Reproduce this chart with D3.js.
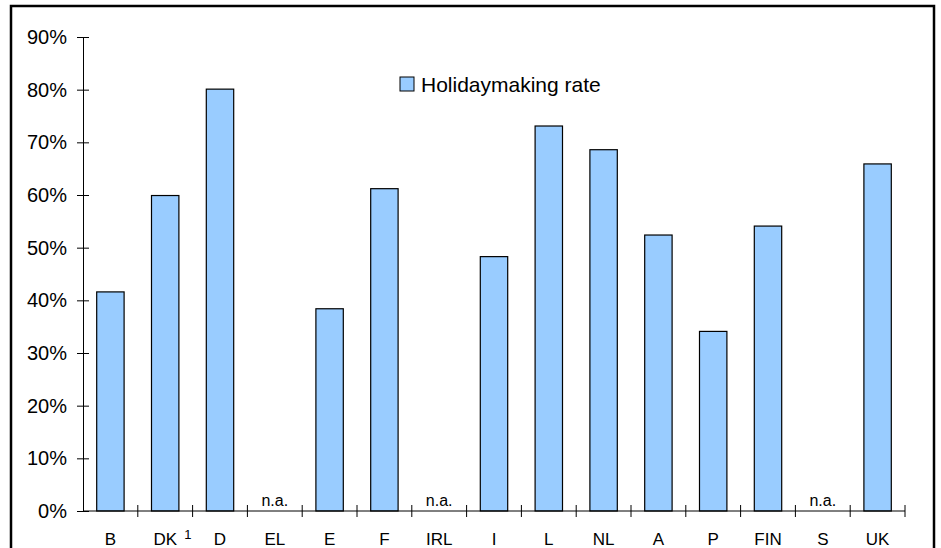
<!DOCTYPE html>
<html>
<head>
<meta charset="utf-8">
<script src="https://cdn.jsdelivr.net/npm/d3@7"></script>
<style>
  body { margin: 0; background: #fff; }
  svg { display: block; font-family: "Liberation Sans", Arial, sans-serif; }
</style>
</head>
<body>
<svg id="chart"></svg>
<script>
// country codes on the x axis
const countries = ['B', 'DK', 'D', 'EL', 'E', 'F', 'IRL', 'I', 'L', 'NL', 'A', 'P', 'FIN', 'S', 'UK'];
// holidaymaking rate in %, null = not available
const rates = [41.6, 59.9, 80.1, null, 38.4, 61.2, null, 48.3, 73.1, 68.6, 52.4, 34.1, 54.1, null, 65.9];
const yTicks = [0, 10, 20, 30, 40, 50, 60, 70, 80, 90];
const seriesName = 'Holidaymaking rate';

const width = 941, height = 548;
const margin = { top: 37, right: 36, bottom: 37, left: 83 };

const svg = d3.select('#chart')
  .attr('width', width)
  .attr('height', height);

// outer frame (bottom edge is below the visible area)
svg.append('rect')
  .attr('x', 11).attr('y', 6)
  .attr('width', 923).attr('height', 560)
  .attr('fill', 'none')
  .attr('stroke', '#000')
  .attr('stroke-width', 2.5);

const x = d3.scaleBand()
  .domain(countries)
  .range([margin.left, width - margin.right])
  .paddingInner(0.5)
  .paddingOuter(0.25);

const y = d3.scaleLinear()
  .domain([0, 90])
  .range([height - margin.bottom, margin.top]);

const data = countries.map((c, i) => ({ c, v: rates[i] }));

// bars
svg.selectAll('.bar')
  .data(data.filter(d => d.v != null))
  .enter().append('rect')
  .attr('class', 'bar')
  .attr('x', d => x(d.c))
  .attr('y', d => y(d.v))
  .attr('width', x.bandwidth())
  .attr('height', d => y(0) - y(d.v))
  .attr('fill', '#99ccff')
  .attr('stroke', '#000')
  .attr('stroke-width', 1.2);

// n.a. markers
svg.selectAll('.na')
  .data(data.filter(d => d.v == null))
  .enter().append('text')
  .attr('x', d => x(d.c) + x.bandwidth() / 2)
  .attr('y', y(0) - 5)
  .attr('text-anchor', 'middle')
  .attr('font-size', 16)
  .text('n.a.');

// y axis
const yAxis = svg.append('g')
  .attr('transform', `translate(${margin.left},0)`)
  .call(d3.axisLeft(y).tickValues(yTicks).tickFormat(d => d + '%').tickSizeInner(6).tickSizeOuter(0));
yAxis.selectAll('.tick line').attr('x2', 6).attr('x1', -6);
yAxis.selectAll('.tick text').attr('x', -16).attr('font-size', 20).attr('fill', '#000');
yAxis.select('.domain').attr('stroke', '#000');

// x axis: ticks sit on band boundaries
const xAxis = svg.append('g')
  .attr('transform', `translate(0,${y(0)})`);
xAxis.append('line')
  .attr('x1', margin.left).attr('x2', width - margin.right)
  .attr('stroke', '#000');
const step = x.step();
const bounds = d3.range(countries.length + 1).map(i => margin.left + i * step);
xAxis.selectAll('.xt')
  .data(bounds.slice(1))
  .enter().append('line')
  .attr('x1', d => d).attr('x2', d => d)
  .attr('y1', -6).attr('y2', 6)
  .attr('stroke', '#000');
xAxis.selectAll('.xl')
  .data(countries)
  .enter().append('text')
  .attr('x', d => x(d) + x.bandwidth() / 2)
  .attr('y', 34)
  .attr('text-anchor', 'middle')
  .attr('font-size', 17)
  .text(d => d);

// footnote marker next to DK
xAxis.append('text')
  .attr('x', x('DK') + x.bandwidth() / 2 + 19)
  .attr('y', 28)
  .attr('font-size', 13)
  .text('1');

// legend
const lg = svg.append('g').attr('transform', 'translate(400,77)');
lg.append('rect')
  .attr('width', 14).attr('height', 14)
  .attr('fill', '#99ccff')
  .attr('stroke', '#000');
lg.append('text')
  .attr('x', 21).attr('y', 14.5)
  .attr('font-size', 21)
  .text(seriesName);
</script>
</body>
</html>
